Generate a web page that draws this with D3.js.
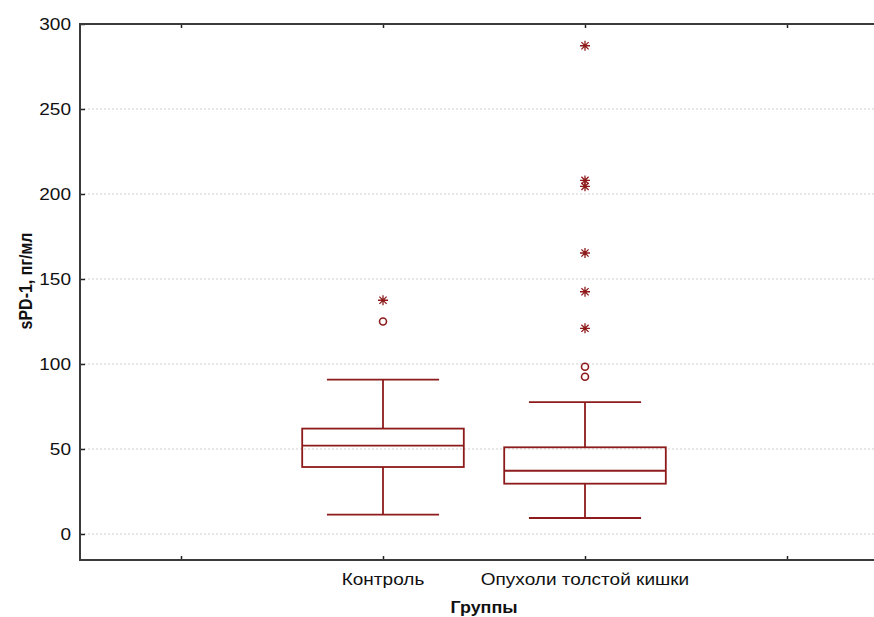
<!DOCTYPE html>
<html>
<head>
<meta charset="utf-8">
<script src="https://cdn.jsdelivr.net/npm/d3@7"></script>
<style>
  body { margin: 0; background: #fff; }
  text { font-family: "Liberation Sans", Arial, sans-serif; fill: #111; }
</style>
</head>
<body>
<div id="chart"></div>
<script>
// slots on the x axis (outer ones are empty, as in the original)
const slots = ["", "Контроль", "Опухоли толстой кишки", " "];
const groups = ["Контроль", "Опухоли толстой кишки"];
const whiskerLow = [11.4, 9.4];
const q1 = [39.4, 29.6];
const median = [52, 37.2];
const q3 = [62, 51];
const whiskerHigh = [90.8, 77.6];
const outliers = [[125], [98.4, 92.5]];
const extremes = [[137.5], [121, 142.5, 165.3, 204.5, 208, 287.2]];
const yTicks = [0, 50, 100, 150, 200, 250, 300];

const W = 874, H = 617;
const mLeft = 80, mRight = 888, mTop = 24, mBottom = 560;
const red = "#8e1b1b";
const stretch = 1.12;

const svg = d3.select("#chart").append("svg")
    .attr("width", W)
    .attr("height", H);

const x = d3.scalePoint()
    .domain(slots)
    .range([mLeft, mRight])
    .padding(0.5);

const y = d3.scaleLinear()
    .domain([-15.3, 300])
    .range([mBottom, mTop]);

const step = x.step();

// grid
svg.append("g")
    .selectAll("line")
    .data(yTicks.filter(d => d < 300))
    .join("line")
    .attr("x1", mLeft).attr("x2", mRight)
    .attr("y1", d => y(d)).attr("y2", d => y(d))
    .attr("stroke", "#cfcfcf")
    .attr("stroke-width", 1)
    .attr("stroke-dasharray", "2,2");

// axes (ticks pointing inside)
const yAxis = svg.append("g")
    .attr("transform", `translate(${mLeft},0)`)
    .call(d3.axisRight(y).tickValues(yTicks).tickSize(5).tickFormat(""));
const xAxisB = svg.append("g")
    .attr("transform", `translate(0,${mBottom})`)
    .call(d3.axisTop(x).tickSize(4).tickFormat(""));
const xAxisT = svg.append("g")
    .attr("transform", `translate(0,${mTop})`)
    .call(d3.axisBottom(x).tickSize(4).tickFormat(""));
[yAxis, xAxisB, xAxisT].forEach(g => {
    g.select(".domain").remove();
    g.selectAll("line").attr("stroke", "#222").attr("stroke-width", 1.5);
});

// frame
svg.append("path")
    .attr("d", `M${mRight},${mTop}H${mLeft}V${mBottom}H${mRight}`)
    .attr("fill", "none")
    .attr("stroke", "#3a3a3a")
    .attr("stroke-width", 2);

// y tick labels
svg.append("g")
    .selectAll("text")
    .data(yTicks)
    .join("text")
    .attr("transform", d => `translate(${mLeft - 9},${y(d)}) scale(${stretch},1)`)
    .attr("text-anchor", "end")
    .attr("dy", "0.36em")
    .style("font-size", "17px")
    .text(d => d);

// x tick labels
svg.append("g")
    .selectAll("text")
    .data(groups)
    .join("text")
    .attr("transform", d => `translate(${x(d)},${mBottom + 25}) scale(${stretch},1)`)
    .attr("text-anchor", "middle")
    .style("font-size", "17px")
    .text(d => d);

// axis titles
svg.append("text")
    .attr("transform", `translate(${(mLeft + mRight) / 2},${mBottom + 53}) scale(${stretch},1)`)
    .attr("text-anchor", "middle")
    .style("font-size", "16px")
    .style("font-weight", "bold")
    .text("Группы");

svg.append("text")
    .attr("transform", `translate(32,281) rotate(-90) scale(1,${stretch})`)
    .attr("text-anchor", "middle")
    .style("font-size", "16px")
    .style("font-weight", "bold")
    .text("sPD-1, пг/мл");

// boxes
const boxW = step * 0.8, capW = step * 0.555;
const boxes = svg.append("g")
    .selectAll("g")
    .data(groups.map((g, i) => ({ g, i })))
    .join("g")
    .attr("fill", "none")
    .attr("stroke", red)
    .attr("stroke-width", 1.8);

boxes.append("line")
    .attr("x1", d => x(d.g)).attr("x2", d => x(d.g))
    .attr("y1", d => y(whiskerHigh[d.i])).attr("y2", d => y(q3[d.i]));
boxes.append("line")
    .attr("x1", d => x(d.g)).attr("x2", d => x(d.g))
    .attr("y1", d => y(q1[d.i])).attr("y2", d => y(whiskerLow[d.i]));
boxes.append("line")
    .attr("x1", d => x(d.g) - capW / 2).attr("x2", d => x(d.g) + capW / 2)
    .attr("y1", d => y(whiskerHigh[d.i])).attr("y2", d => y(whiskerHigh[d.i]));
boxes.append("line")
    .attr("x1", d => x(d.g) - capW / 2).attr("x2", d => x(d.g) + capW / 2)
    .attr("y1", d => y(whiskerLow[d.i])).attr("y2", d => y(whiskerLow[d.i]));
boxes.append("rect")
    .attr("x", d => x(d.g) - boxW / 2)
    .attr("width", boxW)
    .attr("y", d => y(q3[d.i]))
    .attr("height", d => y(q1[d.i]) - y(q3[d.i]));
boxes.append("line")
    .attr("x1", d => x(d.g) - boxW / 2).attr("x2", d => x(d.g) + boxW / 2)
    .attr("y1", d => y(median[d.i])).attr("y2", d => y(median[d.i]));

// outliers (circles)
boxes.each(function (d) {
    d3.select(this).selectAll("circle")
        .data(outliers[d.i])
        .join("circle")
        .attr("cx", x(d.g))
        .attr("cy", v => y(v))
        .attr("r", 3.5)
        .attr("stroke-width", 1.6);
});

// extremes (asterisks)
const star = r => {
    const a = r * 0.72;
    return `M${-r},0H${r}M0,${-r}V${r}M${-a},${-a}L${a},${a}M${-a},${a}L${a},${-a}`;
};
boxes.each(function (d) {
    d3.select(this).selectAll("path.ext")
        .data(extremes[d.i])
        .join("path")
        .attr("class", "ext")
        .attr("transform", v => `translate(${x(d.g)},${y(v)})`)
        .attr("d", star(5))
        .attr("stroke-width", 1.3);
});
</script>
</body>
</html>
